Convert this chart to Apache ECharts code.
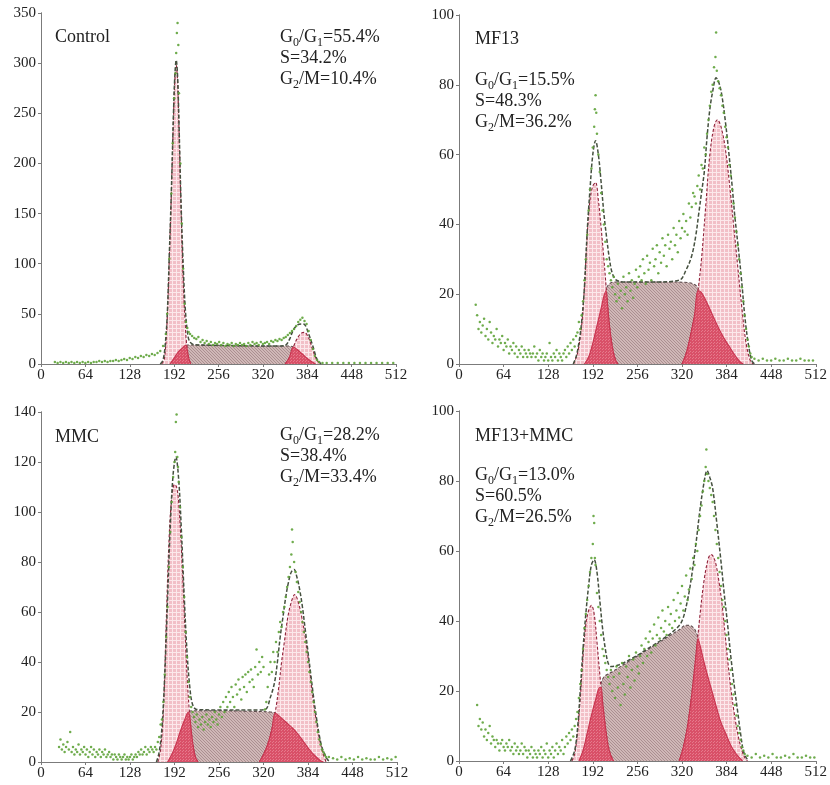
<!DOCTYPE html>
<html>
<head>
<meta charset="utf-8">
<script src="https://cdn.jsdelivr.net/npm/echarts@6/dist/echarts.min.js"></script>
<style>
  html, body { margin: 0; padding: 0; background: #fff; }
  #main { width: 830px; height: 785px; }
</style>
</head>
<body>
<div id="main"></div>
<script>
// ---- data (channel, count) ----
// axis ticks
var xMax = 512, xStep = 64;
var yMaxes = [350, 100, 140, 100];
var ySteps = [50, 20, 20, 20];

// Control
var ctrlDots = [[20,2],[24,1],[28,2],[32,1],[36,2],[40,1],[44,2],[48,1],[52,2],[56,1],[60,2],[64,1],[68,2],[72,1],[76,2],[80,2],[84,3],[88,2],[92,3],[96,2],[100,3],[104,3],[108,4],[112,3],[116,4],[120,5],[124,4],[128,6],[132,5],[136,7],[140,6],[144,8],[148,7],[152,9],[156,8],[160,10],[164,9],[168,11],[172,13],[176,18],
  [180,30],[182,50],[185,105],[188,170],[190,220],[192,265],[194,290],[195,310],[196,330],[197,340],[198,318],[199,270],[201,200],[203,140],[205,95],[207,60],[209,42],[211,36],[213,32],
  [215,30],[218,28],[221,26],[224,25],[227,27],[230,22],[233,24],[236,21],[239,23],[242,20],[245,22],[248,19],[251,21],[254,20],[257,22],[260,19],[263,21],[266,18],[269,20],[272,19],[275,21],[278,18],[281,20],[284,19],[287,21],[290,19],[293,20],[296,18],[299,21],[302,19],[305,22],[308,20],[311,21],[314,19],[317,22],[320,20],[323,21],[326,22],[329,20],[332,23],[335,22],[338,24],[341,23],[344,25],[347,24],[350,26],[353,27],[356,29],[359,31],[362,33],[365,35],[368,38],[371,42],[374,44],[377,46],[380,43],[383,40],[386,33],[389,24],[392,15],[395,8],[398,4],[401,2],
  [406,1],[412,1],[420,1],[428,1],[436,1],[444,1],[452,1],[460,1],[468,1],[476,1],[484,1],[492,1],[500,1],[508,1]];
var ctrlFit = [[172,0],[176,4],[179,18],[182,48],[185,108],[188,172],[191,248],[193,287],[195,303],[197,287],[199,240],[202,160],[205,100],[208,56],[211,33],[214,23],[220,19.5],[260,18.5],[340,18],[352,18.5],[358,24],[364,34],[370,39],[376,40],[380,39.5],[386,30],[392,18],[398,5],[404,0]];
var ctrlS = [[186,0],[192,6],[198,12],[204,16],[210,19],[220,19],[260,18.5],[300,18],[340,18],[356,18],[364,17],[372,13],[380,8],[388,3.5],[396,0]];
var ctrlG1 = [[174,0],[178,5],[182,45],[185,105],[188,170],[191,245],[193,283],[195,298],[197,282],[199,235],[202,155],[205,85],[208,40],[210,20],[213,6],[216,0]];
var ctrlG2 = [[352,0],[358,6],[364,17],[370,26],[376,31],[380,31.5],[386,26],[392,14],[398,4],[403,0]];
var ctrlR1 = [[186,0],[192,6],[198,12],[204,16],[209,19],[211,14],[213,6],[216,0]];
var ctrlR2 = [[352,0],[358,6],[364,17],[372,13],[380,8],[388,3.5],[396,0]];

// MF13
var mf13Dots = [[24,17],[26,14],[28,10],[30,12],[32,9],[34,11],[36,13],[38,8],[40,10],[42,7],[44,12],[46,9],[48,6],[50,8],[52,7],[54,10],[56,5],[58,7],[60,6],[62,8],[64,4],[66,6],[68,5],[70,7],[72,3],[74,5],[76,4],[78,6],[80,3],[82,5],[84,2],[86,4],[88,3],[90,5],[92,2],[94,4],[96,3],[98,2],[100,4],[102,3],[104,2],[106,3],[108,5],[110,2],[112,3],[114,1],[116,4],[118,2],[120,3],[122,1],[124,2],[126,3],[128,1],[130,6],[132,2],[134,1],[136,3],[138,2],[140,4],[142,1],[144,3],[146,2],[148,1],[150,3],[152,4],[154,2],[156,5],[158,3],[160,6],[162,4],[164,7],[166,5],[168,8],[170,9],[172,12],[174,10],[176,14],[178,18],
  [180,24],[182,30],[184,37],[186,44],[188,50],[190,56],[192,62],[194,68],[195,73],[196,77],[197,72],[198,66],[200,60],[202,55],[204,49],[206,44],[208,40],[210,35],[212,30],[214,28],[216,26],
  [218,24],[220,22],[222,25],[224,20],[226,18],[228,23],[230,19],[232,21],[234,16],[236,25],[238,20],[240,22],[242,18],[244,26],[246,21],[248,24],[250,19],[252,23],[254,27],[256,22],[258,25],[260,28],[262,24],[264,30],[266,26],[268,23],[270,31],[272,27],[274,29],[276,24],[278,33],[280,28],[282,30],[284,34],[286,26],[288,32],[290,29],[292,36],[294,31],[296,34],[298,28],[300,37],[302,33],[304,35],[306,30],[308,39],[310,34],[312,37],[314,32],[316,41],[318,36],[320,39],[322,43],[324,38],[326,41],[328,37],[330,46],[332,42],[334,45],[336,49],[338,48],[340,46],[342,51],[344,54],[346,50],[348,57],
  [350,56],[352,62],[354,60],[356,66],[358,70],[360,74],[362,78],[364,80],[366,85],[368,88],[369,95],[370,84],[372,81],[374,79],[376,77],[378,74],[380,72],[382,68],[384,65],[386,62],[388,57],[390,54],[392,50],[394,46],[396,42],[398,38],[400,34],[402,30],[404,26],[406,22],[408,18],[410,14],[412,10],[414,7],[416,5],[418,3],[420,2],
  [424,1.5],[430,1],[436,1.5],[442,1],[448,1],[454,1.5],[460,1],[466,1],[472,1.5],[478,1],[484,1],[490,1.5],[496,1],[502,1],[508,1]];
var mf13Fit = [[164,0],[168,2],[172,6],[176,12],[180,22],[184,38],[188,50],[192,60],[196,64],[200,60],[204,52],[208,43],[212,36],[216,30],[220,26],[226,24],[240,23.5],[280,23.5],[316,24],[326,27],[334,31],[340,37],[344,43],[348,49],[352,55],[356,65],[360,73],[364,78],[369,82],[374,80],[378,76],[382,70],[387,61],[392,51],[396,42],[401,33],[406,23],[410,14],[415,6],[420,1],[424,0]];
var mf13S = [[180,0],[186,2],[192,6],[198,11],[204,16],[210,21],[216,23],[224,23.5],[260,23.5],[300,23.5],[330,23.3],[340,22.5],[348,20.5],[356,17.5],[364,14],[372,10.5],[380,7.5],[388,5],[396,2.5],[404,0.5],[408,0]];
var mf13G1 = [[164,0],[170,3],[176,11],[180,22],[184,37],[188,47],[192,51],[196,52],[200,47],[204,39],[208,30],[212,20],[216,11],[220,5],[224,1.5],[228,0]];
var mf13G2 = [[320,0],[326,3],[332,8],[338,14],[343,21],[348,30],[354,45],[360,60],[366,68],[371,70],[376,68],[382,62],[388,52],[394,40],[400,28],[406,16],[412,6],[418,1],[422,0]];
var mf13R1 = [[180,0],[186,2],[192,6],[198,11],[204,16],[208,19.5],[211,21],[213,17.5],[216,11],[220,5],[224,1.5],[228,0]];
var mf13R2 = [[320,0],[326,3],[332,8],[338,14],[343,21],[348,20.5],[356,17.5],[364,14],[372,10.5],[380,7.5],[388,5],[396,2.5],[404,0.5],[408,0]];

// MMC
var mmcDots = [[26,6],[28,9],[30,5],[32,7],[34,4],[36,6],[38,8],[40,5],[42,12],[44,4],[46,6],[48,3],[50,5],[52,4],[54,7],[56,3],[58,5],[60,4],[62,6],[64,3],[66,5],[68,2],[70,4],[72,6],[74,3],[76,5],[78,2],[80,4],[82,3],[84,5],[86,2],[88,4],[90,3],[92,5],[94,2],[96,3],[98,4],[100,2],[102,3],[104,1],[106,3],[108,2],[110,1],[112,3],[114,2],[116,1],[118,2],[120,3],[122,1],[124,2],[126,1],[128,2],[130,3],[132,1],[134,2],[136,3],[138,2],[140,4],[142,3],[144,5],[146,3],[148,4],[150,6],[152,3],[154,5],[156,4],[158,6],[160,5],[162,4],[164,6],[166,5],[168,8],[170,10],[172,15],[174,17],
  [176,24],[178,35],[180,50],[182,62],[184,78],[186,92],[188,104],[190,114],[192,120],[193,124],[194,136],[195,139],[196,122],[197,118],[198,112],[200,102],[202,90],[204,78],[206,66],[208,52],[210,42],[212,32],[214,26],[216,22],
  [218,20],[220,18],[222,16],[224,19],[226,14],[228,17],[230,15],[232,18],[234,13],[236,16],[238,19],[240,15],[242,17],[244,14],[246,18],[248,16],[250,20],[252,17],[254,15],[256,19],[258,22],[260,18],[262,24],[264,20],[266,26],[268,22],[270,28],[272,24],[274,30],[276,26],[278,22],[280,31],[282,27],[284,33],[286,29],[288,25],[290,34],[292,30],[294,35],[296,28],[298,36],[300,32],[302,37],[304,33],[306,30],[308,38],[310,45],[312,35],[314,40],[316,36],[318,42],[320,38],[322,21],[324,24],[326,30],[328,35],[330,40],[332,36],[334,44],[336,40],
  [338,48],[340,44],[342,52],[344,56],[346,54],[348,60],[350,62],[352,66],[354,70],[356,74],[358,78],[360,83],[361,93],[362,88],[364,80],[366,76],[368,72],[370,68],[372,64],[374,60],[376,56],[378,52],[380,48],[382,44],[384,40],[386,36],[388,32],[390,28],[392,24],[394,20],[396,16],[398,12],[400,9],[402,7],[404,5],[406,4],[408,3],[410,2],
  [414,2],[420,1.5],[426,1],[432,2],[438,1],[444,1.5],[450,1],[456,2],[462,1],[468,1.5],[474,1],[480,1],[486,2],[492,1],[498,1.5],[504,1],[510,2]];
var mmcFit = [[166,0],[170,4],[174,14],[178,35],[182,65],[186,95],[190,115],[194,122],[198,113],[202,92],[206,66],[210,44],[214,30],[218,23],[224,21],[260,20.8],[300,20.8],[322,21],[330,26],[336,32],[340,40],[344,50],[348,58],[352,66],[356,72],[360,76],[364,77],[368,74],[372,69],[376,62],[380,53],[384,44],[388,35],[392,26],[396,18],[400,11],[404,6],[408,3],[412,1],[416,0]];
var mmcS = [[182,0],[188,3],[194,7],[200,12],[206,16.5],[212,20],[220,20.5],[260,20.5],[300,20.3],[330,20],[338,19.5],[346,17.5],[354,15.5],[362,13.5],[370,11],[378,8],[386,5],[394,2.5],[402,0.5],[406,0]];
var mmcG1 = [[168,0],[172,5],[176,20],[180,55],[184,88],[188,106],[192,111],[195,110],[198,104],[202,85],[206,60],[210,35],[214,18],[218,8],[222,2],[226,0]];
var mmcG2 = [[314,0],[320,3],[326,7],[332,13],[337,20],[342,30],[346,40],[350,48],[355,58],[360,64],[365,67],[370,64],[375,58],[380,50],[385,40],[390,28],[395,18],[400,10],[405,4],[410,0]];
var mmcR1 = [[182,0],[188,3],[194,7],[200,12],[206,16.5],[212,20],[214,18],[218,8],[222,2],[226,0]];
var mmcR2 = [[314,0],[320,3],[326,7],[332,13],[337,19.5],[346,17.5],[354,15.5],[362,13.5],[370,11],[378,8],[386,5],[394,2.5],[402,0.5],[406,0]];

// MF13+MMC
var comboDots = [[26,16],[28,10],[30,12],[32,9],[34,11],[36,7],[38,9],[40,6],[42,8],[44,10],[46,5],[48,7],[50,6],[52,4],[54,6],[56,5],[58,3],[60,5],[62,6],[64,4],[66,3],[68,5],[70,4],[72,6],[74,3],[76,4],[78,2],[80,5],[82,3],[84,4],[86,2],[88,3],[90,5],[92,2],[94,4],[96,3],[98,1],[100,3],[102,2],[104,4],[106,1],[108,3],[110,2],[112,1],[114,3],[116,2],[118,4],[120,1],[122,3],[124,2],[126,5],[128,1],[130,3],[132,2],[134,4],[136,1],[138,3],[140,5],[142,2],[144,4],[146,3],[148,6],[150,2],[152,4],[154,7],[156,5],[158,8],[160,6],[162,9],[164,7],[166,10],[168,12],
  [170,14],[172,18],[174,22],[176,26],[178,32],[180,38],[182,42],[184,46],[186,50],[188,54],[190,58],[192,62],[193,70],[194,68],[195,58],[196,56],[198,48],[200,44],[202,40],[204,36],[206,32],[208,30],[210,28],[212,26],
  [214,24],[216,22],[218,26],[220,20],[222,24],[224,18],[226,27],[228,21],[230,25],[232,16],[234,28],[236,22],[238,19],[240,27],[242,24],[244,30],[246,21],[248,26],[250,29],[252,23],[254,31],[256,27],[258,25],[260,30],[262,33],[264,28],[266,32],[268,35],[270,30],[272,34],[274,37],[276,31],[278,35],[280,39],[282,33],[284,36],[286,41],[288,35],[290,38],[292,43],[294,37],[296,40],[298,36],[300,44],[302,39],[304,42],[306,38],[308,46],[310,40],[312,43],[314,48],[316,41],[318,45],[320,50],[322,43],[324,47],[326,53],[328,46],[330,49],
  [332,55],[334,52],[336,58],[338,56],[340,62],[342,60],[344,66],[346,70],[348,73],[350,77],[352,80],[354,84],[355,89],[356,82],[358,80],[360,78],[362,76],[364,74],[366,70],[368,66],[370,62],[372,58],[374,54],[376,50],[378,46],[380,44],[382,40],[384,36],[386,32],[388,29],[390,26],[392,22],[394,19],[396,16],[398,13],[400,10],[402,8],[404,6],[406,4],[408,3],[410,2],
  [414,1.5],[420,1],[426,2],[432,1],[438,1.5],[444,1],[450,2],[456,1],[462,1],[468,1.5],[474,1],[480,2],[486,1],[492,1],[498,1.5],[504,1],[510,1]];
var comboFit = [[160,0],[166,3],[170,9],[174,20],[178,32],[182,42],[186,50],[190,56],[194,57.5],[198,54],[202,46],[206,38],[210,32],[214,28],[218,27],[230,27.5],[250,29.5],[270,32],[290,34.5],[310,37.5],[320,40],[328,46],[334,53],[340,62],[346,72],[352,80],[356,83],[360,81],[364,78],[370,68],[376,57],[380,49],[386,38],[390,30],[396,20],[400,14],[404,8],[408,3],[412,1],[416,0]];
var comboS = [[172,0],[178,3],[184,8],[190,13],[196,17.5],[202,21],[208,24],[220,25.5],[240,28],[260,30.5],[280,33],[300,35.5],[316,37.5],[326,38.8],[334,38.5],[340,37],[346,33],[352,28],[358,23.5],[364,19.3],[370,15],[376,11],[383,7.8],[390,4.5],[398,2],[407,0]];
var comboG1 = [[162,0],[166,2],[170,8],[174,18],[178,30],[182,39],[186,43],[190,44.5],[194,42],[198,34],[202,25],[206,17],[210,10],[214,4.5],[218,1.5],[222,0]];
var comboG2 = [[316,0],[322,4],[328,10],[334,19],[340,30],[346,42],[352,52],[358,58],[362,59],[366,58],[370,55],[374,50],[378,44],[382,36],[386,28],[390,21],[394,15],[398,10],[402,6],[406,3],[410,1],[414,0]];
var comboR1 = [[172,0],[178,3],[184,8],[190,13],[196,17.5],[202,21],[204,21],[206,17],[210,10],[214,4.5],[218,1.5],[222,0]];
var comboR2 = [[316,0],[322,4],[328,10],[334,19],[340,30],[343,35],[346,33],[352,28],[358,23.5],[364,19.3],[370,15],[376,11],[383,7.8],[390,4.5],[398,2],[407,0]];

// labels
var titles = ['Control', 'MF13', 'MMC', 'MF13+MMC'];
var g1Text = ['55.4%', '15.5%', '28.2%', '13.0%'];
var sText = ['34.2%', '48.3%', '38.4%', '60.5%'];
var g2Text = ['10.4%', '36.2%', '33.4%', '26.5%'];

// ---- layout ----
var grids = [
  { left: 41, top: 13, width: 355, height: 351 },
  { left: 459, top: 15, width: 357, height: 349 },
  { left: 41, top: 412, width: 356, height: 350 },
  { left: 459, top: 411, width: 358, height: 350 }
];
var serif = '"Liberation Serif", "DejaVu Serif", serif';

// fill patterns
function pattern(size, draw) {
  var c = document.createElement('canvas');
  c.width = size; c.height = size;
  draw(c.getContext('2d'), size);
  return { image: c, repeat: 'repeat' };
}
var pinkFill = pattern(4, function (g, n) {
  g.fillStyle = '#f2bfc7'; g.fillRect(0, 0, n, n);
  g.fillStyle = '#fce8eb'; g.fillRect(0, 0, n, 1); g.fillRect(0, 0, 1, n);
});
var sFill = pattern(3, function (g, n) {
  g.fillStyle = '#d0b8b7'; g.fillRect(0, 0, n, n);
  g.fillStyle = '#ab8f90'; g.fillRect(0, 0, 1, 1); g.fillRect(1, 1, 1, 1); g.fillRect(2, 2, 1, 1);
});
var redFill = pattern(3, function (g, n) {
  g.fillStyle = '#d95068'; g.fillRect(0, 0, n, n);
  g.fillStyle = '#e67a8c'; g.fillRect(0, 0, 1, 1); g.fillRect(2, 1, 1, 1);
});

function area(i, data, fill, edge, dash, z) {
  return {
    type: 'line', xAxisIndex: i, yAxisIndex: i, data: data,
    symbol: 'none', smooth: 0.35, silent: true, z: z,
    lineStyle: { color: edge, width: 1.1, type: dash },
    areaStyle: { color: fill, opacity: 1 }
  };
}

var panels = [
  [ctrlDots, ctrlFit, ctrlS, ctrlG1, ctrlG2, ctrlR1, ctrlR2],
  [mf13Dots, mf13Fit, mf13S, mf13G1, mf13G2, mf13R1, mf13R2],
  [mmcDots, mmcFit, mmcS, mmcG1, mmcG2, mmcR1, mmcR2],
  [comboDots, comboFit, comboS, comboG1, comboG2, comboR1, comboR2]
];

var series = [];
panels.forEach(function (p, i) {
  series.push(area(i, p[2], sFill, '#5e4c4d', [3, 2], 2));
  series.push(area(i, p[3], pinkFill, '#8f2139', [3, 2], 3));
  series.push(area(i, p[4], pinkFill, '#8f2139', [3, 2], 3));
  series.push(area(i, p[5], redFill, '#c8344f', 'solid', 4));
  series.push(area(i, p[6], redFill, '#c8344f', 'solid', 4));
  series.push({
    type: 'line', xAxisIndex: i, yAxisIndex: i, data: p[1],
    symbol: 'none', smooth: 0.35, silent: true, z: 5,
    lineStyle: { color: '#45503f', width: 1.5, type: [4, 2] }
  });
  series.push({
    type: 'scatter', xAxisIndex: i, yAxisIndex: i, data: p[0],
    symbolSize: 2.5, silent: true, z: 6,
    itemStyle: { color: '#5fa33a', opacity: 0.9 }
  });
});

var axisLine = { show: true, lineStyle: { color: '#7b7b7b', width: 1 } };
var xAxes = [], yAxes = [];
grids.forEach(function (g, i) {
  xAxes.push({
    gridIndex: i, type: 'value', min: 0, max: xMax, interval: xStep,
    axisLine: axisLine, splitLine: { show: false },
    axisTick: { show: true, length: 3, lineStyle: { color: '#7b7b7b' } },
    axisLabel: { color: '#222', fontFamily: serif, fontSize: 15, margin: 4 }
  });
  yAxes.push({
    gridIndex: i, type: 'value', min: 0, max: yMaxes[i], interval: ySteps[i],
    axisLine: axisLine, splitLine: { show: false },
    axisTick: { show: true, length: 3, lineStyle: { color: '#7b7b7b' } },
    axisLabel: { color: '#222', fontFamily: serif, fontSize: 15, margin: 5 }
  });
});
grids.forEach(function (g, i) {
  xAxes.push({
    gridIndex: i, type: 'value', position: 'top', min: 0, max: xMax, interval: xStep,
    axisLine: axisLine, splitLine: { show: false }, axisLabel: { show: false },
    axisTick: { show: true, inside: true, length: 3, lineStyle: { color: '#7b7b7b' } }
  });
  yAxes.push({
    gridIndex: i, type: 'value', position: 'right', min: 0, max: yMaxes[i], interval: ySteps[i],
    axisLine: axisLine, splitLine: { show: false }, axisLabel: { show: false },
    axisTick: { show: true, inside: true, length: 3, lineStyle: { color: '#7b7b7b' } }
  });
});

// panel annotations (subscripts through rich text)
var rich = {
  m: { fontFamily: serif, fontSize: 18, lineHeight: 18, verticalAlign: 'top', fill: '#222' },
  s: { fontFamily: serif, fontSize: 12, lineHeight: 21, verticalAlign: 'bottom', fill: '#222' }
};
var textPos = [
  { t: [55, 28], r: [280, 28] },
  { t: [475, 30], r: [475, 71] },
  { t: [55, 428], r: [280, 426] },
  { t: [475, 427], r: [475, 466] }
];
var graphics = [];
textPos.forEach(function (p, i) {
  graphics.push({ type: 'text', x: p.t[0], y: p.t[1], silent: true,
    style: { text: titles[i], fontFamily: serif, fontSize: 18, fill: '#222' } });
  var step = 21;
  graphics.push({ type: 'text', x: p.r[0], y: p.r[1], silent: true,
    style: { text: '{m|G}{s|0}{m|/G}{s|1}{m|=' + g1Text[i] + '}', rich: rich } });
  graphics.push({ type: 'text', x: p.r[0], y: p.r[1] + step, silent: true,
    style: { text: 'S=' + sText[i], fontFamily: serif, fontSize: 18, fill: '#222' } });
  graphics.push({ type: 'text', x: p.r[0], y: p.r[1] + step * 2, silent: true,
    style: { text: '{m|G}{s|2}{m|/M=' + g2Text[i] + '}', rich: rich } });
});

var chart = echarts.init(document.getElementById('main'));
chart.setOption({
  animation: false,
  backgroundColor: '#fff',
  grid: grids,
  xAxis: xAxes,
  yAxis: yAxes,
  series: series,
  graphic: graphics
});
</script>
</body>
</html>
